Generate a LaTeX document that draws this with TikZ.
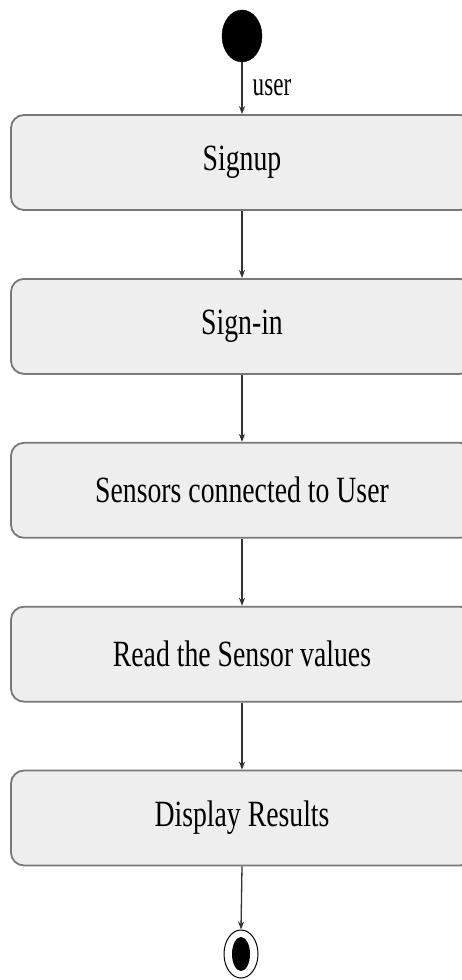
\documentclass[tikz,border=0pt]{standalone}
\usepackage{fontspec}
\setmainfont{Liberation Serif}
\usetikzlibrary{shapes.geometric,arrows.meta}
\definecolor{boxfill}{RGB}{238,238,238}
\definecolor{boxdraw}{RGB}{120,120,120}
\definecolor{arrowcol}{RGB}{50,50,50}
\begin{document}
\begin{tikzpicture}[x=1pt,y=-1pt,
  actbox/.style={rectangle, rounded corners=13pt, fill=boxfill, draw=boxdraw, line width=1.8pt,
    minimum width=462pt, minimum height=95pt, inner sep=0pt,
    font=\fontsize{37}{40}\selectfont},
  flow/.style={draw=arrowcol, line width=1.3pt, -{Stealth[length=8pt,width=6pt]}},
  startnode/.style={ellipse, fill=black, draw=black, minimum width=40pt, minimum height=52pt, inner sep=0pt},
  endouter/.style={ellipse, fill=white, draw=black, line width=1pt, minimum width=34pt, minimum height=48pt, inner sep=0pt},
  endinner/.style={ellipse, fill=black, minimum width=18pt, minimum height=34pt, inner sep=0pt}]
\useasboundingbox (0,0) rectangle (462,980);
\clip (0,0) rectangle (462,980);
\fill[white] (0,0) rectangle (462,980);
\node[startnode] (start) at (242,36) {};
\node[actbox] (b1) at (242,162.5) {\scalebox{0.75}[1]{Signup}};
\node[actbox] (b2) at (242,326.4) {\scalebox{0.75}[1]{Sign-in}};
\node[actbox] (b3) at (242,490.3) {\scalebox{0.75}[1]{Sensors connected to User}};
\node[actbox] (b4) at (242,654.2) {\scalebox{0.75}[1]{Read the Sensor values}};
\node[actbox] (b5) at (242,818) {\scalebox{0.75}[1]{Display Results}};
\node[endouter] (end) at (241,954) {};
\node[endinner] (endin) at (end.center) {};
\draw[flow] (start.south) -- (b1.north);
\node[anchor=base, font=\fontsize{34}{36}\selectfont] (userlbl) at (272,95) {\scalebox{0.68}[1]{user}};
\draw[flow] (b1.south) -- (b2.north);
\draw[flow] (b2.south) -- (b3.north);
\draw[flow] (b3.south) -- (b4.north);
\draw[flow] (b4.south) -- (b5.north);
\draw[flow] (b5.south) -- (end.north);
\end{tikzpicture}
\end{document}
